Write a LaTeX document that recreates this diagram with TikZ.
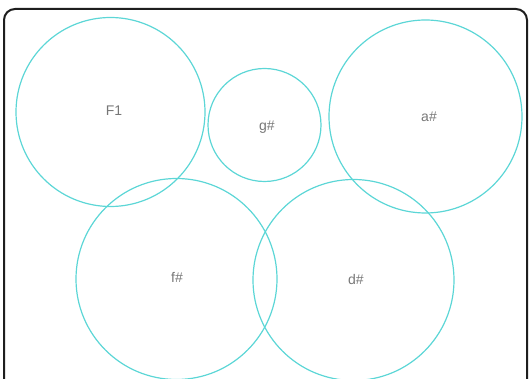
\documentclass[tikz,border=0pt]{standalone}
\usepackage{fontspec}
\setmainfont{Liberation Sans}
\begin{document}
\begin{tikzpicture}[x=1pt,y=-1pt,
  ring/.style={draw=circ, line width=1.2pt},
  lbl/.style={text=lblgray, font=\fontsize{14}{16}\selectfont, inner sep=0pt}]
\definecolor{circ}{HTML}{5CD6D6}
\definecolor{lblgray}{HTML}{777777}
\definecolor{frame}{HTML}{1E1E1E}
\useasboundingbox (0,0) rectangle (531,379);
\clip (0,0) rectangle (531,379);
\draw[frame, line width=2pt, rounded corners=11pt] (4,9) rectangle (527,392);
\draw[ring] (110.5,112) circle (94.5);
\draw[ring] (264.5,125) circle (56.5);
\draw[ring] (425.5,116.5) circle (96.5);
\draw[ring] (176.5,279) circle (100.5);
\draw[ring] (353.5,280) circle (100.5);
\node[lbl] (f1) at (114,111) {F1};
\node[lbl] (gs) at (267,127) {g\#};
\node[lbl] (as) at (429,117) {a\#};
\node[lbl] (fs) at (177,277) {f\#};
\node[lbl] (ds) at (356,279) {d\#};
\end{tikzpicture}
\end{document}
